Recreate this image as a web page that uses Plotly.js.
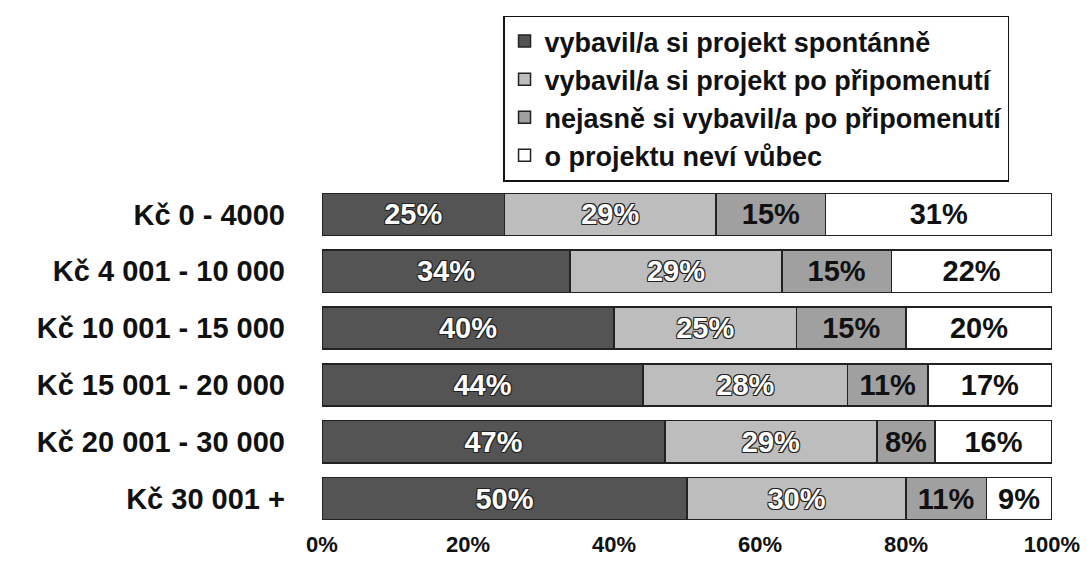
<!DOCTYPE html>
<html>
<head>
<meta charset="utf-8">
<script src="https://cdn.plot.ly/plotly-3.0.1.min.js"></script>
<style>html,body{margin:0;padding:0;background:#fff;}#chart{width:1092px;height:568px;}</style>
</head>
<body>
<div id="chart"></div>
<script>
const categories = ["Kč 0 - 4000", "Kč 4 001 - 10 000", "Kč 10 001 - 15 000", "Kč 15 001 - 20 000", "Kč 20 001 - 30 000", "Kč 30 001 +"];
const seriesNames = ["vybavil/a si projekt spontánně", "vybavil/a si projekt po připomenutí", "nejasně si vybavil/a po připomenutí", "o projektu neví vůbec"];
const spontanne = [25, 34, 40, 44, 47, 50];
const poPripomenuti = [29, 29, 25, 28, 29, 30];
const nejasne = [15, 15, 15, 11, 8, 11];
const nevi = [31, 22, 20, 17, 16, 9];
const xTickVals = [0, 20, 40, 60, 80, 100];
const xTickText = ["0%", "20%", "40%", "60%", "80%", "100%"];

const values = [spontanne, poPripomenuti, nejasne, nevi];
const colors = ["#545454", "#bdbdbd", "#a0a0a0", "#ffffff"];
const textColors = ["#ffffff", "#ffffff", "#111111", "#111111"];
const shadowDark = "1px 1px 0 #222, -1px -1px 0 #222, 1px -1px 0 #222, -1px 1px 0 #222";
const bold = {family: "Liberation Sans, Arial, sans-serif", weight: "bold"};

const traces = values.map((v, i) => ({
  type: "bar",
  orientation: "h",
  name: seriesNames[i],
  y: categories,
  x: v,
  marker: {color: colors[i], line: {color: "#222", width: 1.5}},
  text: v.map(n => n + "%"),
  textposition: "inside",
  insidetextanchor: "middle",
  constraintext: "none",
  textangle: 0,
  textfont: Object.assign({}, bold, {size: 29, color: textColors[i], shadow: i < 2 ? shadowDark : "none"}),
  hoverinfo: "skip"
}));

const layout = {
  width: 1092, height: 568,
  paper_bgcolor: "#fff", plot_bgcolor: "#fff",
  margin: {l: 322, r: 40, t: 186, b: 41},
  barmode: "stack",
  bargap: 0.26,
  showlegend: true,
  legend: {
    x: 0.248, y: 1.5, xanchor: "left", yanchor: "top",
    bordercolor: "#111", borderwidth: 1.5, bgcolor: "#fff",
    traceorder: "normal",
    font: Object.assign({}, bold, {size: 27, color: "#111"}),
    itemwidth: 30
  },
  xaxis: {
    range: [0, 100], tickmode: "array", tickvals: xTickVals, ticktext: xTickText,
    showgrid: false, zeroline: false, showline: false, ticks: "",
    ticklabelstandoff: 2,
    tickfont: Object.assign({}, bold, {size: 22, color: "#111"})
  },
  yaxis: {
    autorange: "reversed",
    showgrid: false, zeroline: false, showline: false, ticks: "",
    ticklabelstandoff: 36,
    tickfont: Object.assign({}, bold, {size: 29, color: "#111"})
  }
};

Plotly.newPlot("chart", traces, layout, {displayModeBar: false, staticPlot: true});
</script>
</body>
</html>
